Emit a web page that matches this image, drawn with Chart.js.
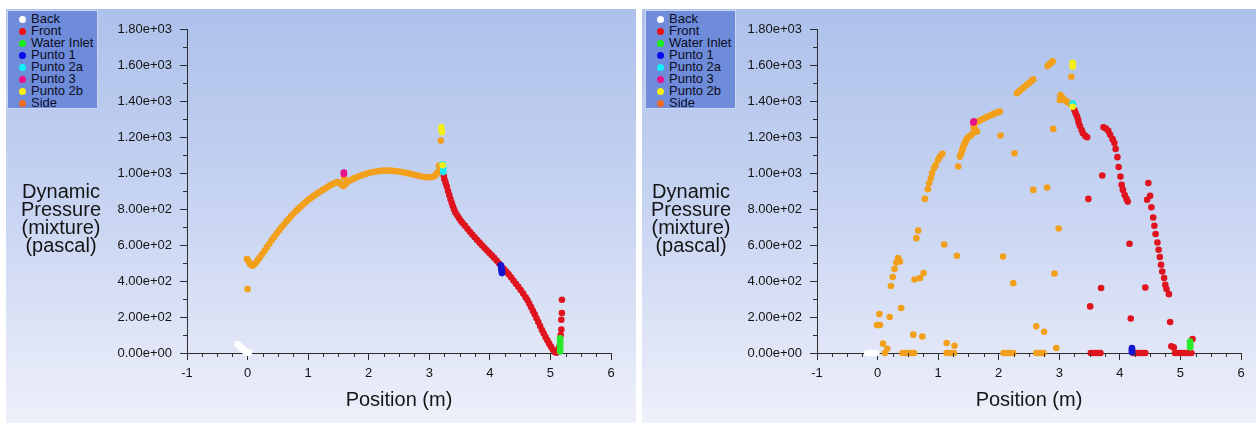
<!DOCTYPE html>
<html>
<head>
<meta charset="utf-8">
<script src="https://cdn.jsdelivr.net/npm/chart.js@4.4.1/dist/chart.umd.min.js"></script>
<style>
  html, body { margin: 0; padding: 0; background: #ffffff; }
  body { width: 1259px; height: 423px; overflow: hidden; position: relative;
         font-family: "Liberation Sans", Arial, sans-serif; }
  .panel { position: absolute; top: 9px; height: 414px;
           background: linear-gradient(to bottom, #adc1eb 0%, #c9d5f2 50%, #eef0fa 100%); }
  .panel canvas { position: absolute; left: 0; top: 0; }
  .legend { position: absolute; top: 1px; width: 89px; height: 97px;
            background: #6f8cda; border: 1px solid #c9d5f3; }
  .legend .item { position: absolute; left: 0; height: 12px; line-height: 12px;
                  font-size: 13px; color: #0c0c22; white-space: nowrap; }
  .legend .dot { position: absolute; left: 11px; top: 2.5px; width: 7px; height: 7px; border-radius: 50%; }
  .legend .txt { position: absolute; left: 23px; top: 0; }
  .ytitle { position: absolute; width: 130px; text-align: center; font-size: 20px;
            line-height: 18px; color: #151515; }
</style>
</head>
<body>
<div class="panel" id="panelA" style="left:6px;width:630px">
  <canvas id="chartA" width="630" height="414"></canvas>
  <div class="legend" id="legendA" style="left:1px"></div>
  <div class="ytitle" style="left:-10px;top:173px">Dynamic<br>Pressure<br>(mixture)<br>(pascal)</div>
</div>
<div class="panel" id="panelB" style="left:642px;width:614px">
  <canvas id="chartB" width="614" height="414"></canvas>
  <div class="legend" id="legendB" style="left:3px"></div>
  <div class="ytitle" style="left:-16px;top:173px">Dynamic<br>Pressure<br>(mixture)<br>(pascal)</div>
</div>
<script>
// ---- axis ticks ----
const xTicks = [-1, 0, 1, 2, 3, 4, 5, 6];
const xTickLabels = ['-1', '0', '1', '2', '3', '4', '5', '6'];
const yTicks = [0, 200, 400, 600, 800, 1000, 1200, 1400, 1600, 1800];
const yTickLabels = ['0.00e+00', '2.00e+02', '4.00e+02', '6.00e+02', '8.00e+02',
                     '1.00e+03', '1.20e+03', '1.40e+03', '1.60e+03', '1.80e+03'];

// ---- series (legend order) ----
const seriesNames = ['Back', 'Front', 'Water Inlet', 'Punto 1', 'Punto 2a', 'Punto 3', 'Punto 2b', 'Side'];

// Left plot: [position m, dynamic pressure Pa]
const leftBack = [[-0.17,50],[-0.15,44],[-0.13,37],[-0.11,30],[-0.08,23],[-0.06,16],[-0.04,10],[-0.02,4],[0.00,1],[0.02,3]];
const leftFront = [[3.24,985],[3.25,965],[3.27,945],[3.29,925],[3.31,900],[3.33,878],[3.35,855],[3.37,835],[3.39,815],
  [3.41,797],[3.43,780],[3.46,765],[3.49,750],[3.52,735],[3.55,722],[3.59,707],[3.63,690],[3.67,674],[3.71,658],
  [3.75,643],[3.79,628],[3.83,613],[3.87,599],[3.91,585],[3.95,571],[3.99,557],[4.03,543],[4.07,529],[4.11,514],
  [4.15,498],[4.19,482],[4.23,467],[4.27,452],[4.31,437],[4.35,421],[4.39,403],[4.43,385],[4.47,368],[4.51,350],
  [4.55,330],[4.59,310],[4.62,294],[4.65,275],[4.68,255],[4.71,235],[4.74,215],[4.77,193],[4.80,172],[4.83,150],
  [4.86,128],[4.89,108],[4.92,88],[4.95,70],[4.98,52],[5.01,35],[5.04,18],[5.07,5],[5.10,2],[5.12,10],[5.14,30],
  [5.17,100],[5.18,130],[5.18,185],[5.19,222],[5.19,296]];
const leftWaterInlet = [[5.16,82],[5.16,70],[5.16,57],[5.16,45],[5.16,32],[5.16,20],[5.16,8]];
const leftPunto1 = [[4.18,487],[4.19,476],[4.19,464],[4.20,452],[4.20,444]];
const leftPunto2a = [[3.22,1048],[3.23,1033],[3.23,1018],[3.23,1005]];
const leftPunto3 = [[1.59,1003],[1.59,995]];
const leftPunto2b = [[3.20,1255],[3.20,1240],[3.21,1226],[3.22,1043]];
const leftSide = [[0.00,355],
  [-0.01,522],[0.01,512],[0.03,500],[0.05,490],[0.08,485],[0.11,492],[0.14,503],[0.17,516],[0.20,530],[0.24,548],
  [0.28,568],[0.32,588],[0.36,607],[0.40,627],[0.44,645],[0.48,664],[0.52,681],[0.56,698],[0.60,714],[0.64,730],
  [0.68,746],[0.72,761],[0.76,775],[0.80,789],[0.84,802],[0.88,814],[0.92,826],[0.96,838],[1.00,850],[1.04,860],
  [1.08,870],[1.12,879],[1.16,888],[1.20,897],[1.24,906],[1.28,914],[1.32,922],[1.36,930],[1.40,937],[1.44,944],
  [1.48,950],[1.52,945],[1.55,935],[1.58,928],[1.61,936],[1.64,948],[1.68,957],[1.72,964],[1.76,970],[1.80,976],
  [1.85,983],[1.90,989],[1.95,995],[2.00,1000],[2.05,1004],[2.10,1007],[2.15,1010],[2.20,1012],[2.25,1013],
  [2.30,1013],[2.35,1013],[2.40,1012],[2.45,1010],[2.50,1008],[2.55,1005],[2.60,1001],[2.65,998],[2.70,994],
  [2.75,990],[2.80,986],[2.85,982],[2.90,979],[2.95,977],[3.00,976],[3.05,978],[3.09,984],[3.12,995],[3.15,1007],
  [3.17,1017],[3.16,1042],[3.19,1180],[1.59,977]];

// Right plot: [position m, dynamic pressure Pa]
const rightBack = [[-0.17,0],[-0.14,0],[-0.11,0],[-0.08,0],[-0.05,0],[-0.02,0]];
const rightFront = [[3.25,1350],[3.27,1332],[3.29,1317],[3.31,1298],[3.32,1280],[3.34,1261],[3.37,1239],[3.39,1221],
  [3.43,1206],[3.46,1199],
  [3.73,1254],[3.77,1247],[3.81,1234],[3.84,1212],[3.88,1188],[3.91,1166],[3.93,1134],[3.96,1088],[3.98,1033],
  [4.01,980],[4.03,934],[4.05,906],[4.08,878],[4.11,856],[4.13,841],
  [4.47,944],[4.50,873],[4.45,851],[4.52,810],[4.55,753],[4.57,707],[4.59,661],[4.62,614],[4.64,574],[4.66,533],
  [4.68,490],[4.70,453],[4.73,416],[4.75,379],[4.77,355],[4.81,327],
  [3.71,986],[3.48,856],[4.16,607],[3.69,361],[3.51,259],[4.18,192],[4.42,364],[4.83,172],[4.85,37],[4.89,31],[5.20,78],
  [3.52,0],[3.56,0],[3.60,0],[3.64,0],[3.68,0],
  [4.22,0],[4.26,0],[4.30,0],[4.34,0],[4.38,0],[4.42,0],
  [4.91,0],[4.95,0],[4.99,0],[5.03,0],[5.07,0],[5.11,0],[5.15,0],[5.18,0]];
const rightWaterInlet = [[5.16,64],[5.16,55],[5.16,46],[5.16,37],[5.16,31]];
const rightPunto1 = [[4.20,28],[4.20,20],[4.20,12],[4.20,4]];
const rightPunto2a = [[3.23,1378],[3.22,1386]];
const rightPunto3 = [[1.59,1287],[1.58,1281]];
const rightPunto2b = [[3.22,1612],[3.22,1600],[3.22,1590],[3.22,1368]];
const rightSide = [
  [2.81,1595],[2.84,1605],[2.87,1614],[2.89,1620],
  [2.30,1443],[2.34,1455],[2.38,1467],[2.42,1478],[2.46,1489],[2.50,1500],[2.54,1511],[2.57,1520],
  [1.59,1268],[1.63,1280],[1.67,1288],[1.71,1296],[1.75,1303],[1.79,1309],[1.83,1315],[1.87,1321],[1.91,1327],
  [1.95,1333],[1.99,1338],[2.02,1342],[1.59,1254],[1.61,1242],[1.64,1230],
  [1.57,1220],[1.54,1208],[1.51,1202],[1.48,1193],[1.46,1180],[1.45,1170],[1.43,1158],[1.41,1142],[1.40,1128],
  [1.38,1110],[1.36,1091],[1.33,1036],
  [1.07,1106],[1.03,1091],[1.00,1073],[0.96,1045],[0.93,1027],[0.90,999],[0.88,971],[0.85,943],[0.83,910],[0.78,856],
  [2.03,1208],[2.26,1110],[2.57,906],[2.80,919],[2.90,1245],
  [3.02,1433],[3.01,1406],[3.05,1418],[3.08,1406],[3.12,1398],[3.14,1391],[3.18,1385],[3.20,1535],
  [0.67,680],[0.64,638],[0.34,527],[0.37,508],[0.31,503],[0.28,466],[0.25,422],[0.22,372],
  [1.10,603],[1.31,540],[0.61,408],[0.70,416],[0.76,444],[2.07,536],[2.24,388],[2.99,692],[2.92,442],
  [0.39,250],[0.03,216],[0.20,200],[-0.01,155],[0.04,155],[0.59,102],[0.74,92],[0.09,52],[0.16,24],
  [1.14,55],[1.27,40],[2.62,148],[2.75,118],[2.95,28],
  [0.12,0],[0.41,0],[0.45,0],[0.49,0],[0.53,0],[0.57,0],[0.60,0],[1.14,0],[1.18,0],[1.22,0],[1.26,0],
  [2.08,0],[2.12,0],[2.16,0],[2.20,0],[2.24,0],[2.62,0],[2.66,0],[2.70,0],[2.74,0]];

// ---- appearance ----
const seriesStyle = {
  'Back':        { color: '#ffffff', legend: '#ffffff', order: 8 },
  'Front':       { color: '#e0141e', legend: '#f01010', order: 9 },
  'Water Inlet': { color: '#2ae82a', legend: '#18f018', order: 5 },
  'Punto 1':     { color: '#1414d0', legend: '#0a0af0', order: 4 },
  'Punto 2a':    { color: '#18e8f0', legend: '#10f0f8', order: 3 },
  'Punto 3':     { color: '#e8128c', legend: '#f0108c', order: 2 },
  'Punto 2b':    { color: '#f4ee18', legend: '#f8f010', order: 1 },
  'Side':        { color: '#f2a01c', legend: '#f06a20', order: 10 }
};
const FONT = '"Liberation Sans", Arial, sans-serif';
const AXIS = '#2e2e2e';

// short unlabelled ticks between the major ones
const minorTicks = {
  id: 'minorTicks',
  afterDraw(chart) {
    const { ctx, chartArea: a, scales: { x, y } } = chart;
    ctx.save();
    ctx.strokeStyle = AXIS;
    ctx.lineWidth = 1;
    ctx.beginPath();
    for (let i = 0; i < xTicks.length - 1; i++) {
      const step = (xTicks[i + 1] - xTicks[i]) / 4;
      for (let k = 1; k < 4; k++) {
        const px = Math.round(x.getPixelForValue(xTicks[i] + k * step)) + 0.5;
        ctx.moveTo(px, a.bottom);
        ctx.lineTo(px, a.bottom + 4);
      }
    }
    for (let i = 0; i < yTicks.length - 1; i++) {
      const py = Math.round(y.getPixelForValue((yTicks[i] + yTicks[i + 1]) / 2)) + 0.5;
      ctx.moveTo(a.left - 4, py);
      ctx.lineTo(a.left, py);
    }
    ctx.stroke();
    ctx.restore();
  }
};

function buildLegend(el) {
  seriesNames.forEach((name, i) => {
    const item = document.createElement('div');
    item.className = 'item';
    item.style.top = (2.3 + i * 12) + 'px';
    item.style.width = '100%';
    const dot = document.createElement('span');
    dot.className = 'dot';
    dot.style.background = seriesStyle[name].legend;
    const txt = document.createElement('span');
    txt.className = 'txt';
    txt.textContent = name;
    item.appendChild(dot);
    item.appendChild(txt);
    el.appendChild(item);
  });
}

function buildChart(canvasId, series, plotLeft, padRight) {
  const datasets = seriesNames.map((name, i) => ({
    label: name,
    data: series[i].map(([x, y]) => ({ x, y })),
    backgroundColor: seriesStyle[name].color,
    pointRadius: 3.3,
    pointHoverRadius: 3.3,
    pointBorderWidth: 0,
    borderWidth: 0,
    showLine: false,
    clip: false,
    order: seriesStyle[name].order
  }));
  return new Chart(document.getElementById(canvasId), {
    type: 'scatter',
    data: { datasets },
    options: {
      responsive: false,
      animation: false,
      devicePixelRatio: 1,
      events: [],
      layout: { padding: { left: 0, right: padRight, top: 20, bottom: 0 } },
      plugins: { legend: { display: false }, tooltip: { enabled: false } },
      scales: {
        x: {
          type: 'linear', min: -1, max: 6,
          afterBuildTicks: s => { s.ticks = xTicks.map(v => ({ value: v })); },
          afterFit: s => { s.height = 70; },
          ticks: {
            callback: v => xTickLabels[xTicks.indexOf(v)],
            color: '#141414', font: { family: FONT, size: 13 }, padding: 6, maxRotation: 0
          },
          grid: { drawOnChartArea: false, drawTicks: true, tickLength: 7, color: AXIS, lineWidth: 1 },
          border: { display: true, color: AXIS, width: 1 },
          title: { display: true, text: 'Position (m)', color: '#151515',
                   font: { family: FONT, size: 20 }, padding: { top: 0, bottom: 11 } }
        },
        y: {
          type: 'linear', min: 0, max: 1800,
          afterBuildTicks: s => { s.ticks = yTicks.map(v => ({ value: v })); },
          afterFit: s => { s.width = plotLeft; },
          ticks: {
            callback: v => yTickLabels[yTicks.indexOf(v)],
            color: '#141414', font: { family: FONT, size: 13 }, padding: 8
          },
          grid: { drawOnChartArea: false, drawTicks: true, tickLength: 7, color: AXIS, lineWidth: 1 },
          border: { display: true, color: AXIS, width: 1 }
        }
      }
    },
    plugins: [minorTicks]
  });
}

buildLegend(document.getElementById('legendA'));
buildLegend(document.getElementById('legendB'));

buildChart('chartA',
  [leftBack, leftFront, leftWaterInlet, leftPunto1, leftPunto2a, leftPunto3, leftPunto2b, leftSide], 181, 25);
buildChart('chartB',
  [rightBack, rightFront, rightWaterInlet, rightPunto1, rightPunto2a, rightPunto3, rightPunto2b, rightSide], 175, 15);
</script>
</body>
</html>
